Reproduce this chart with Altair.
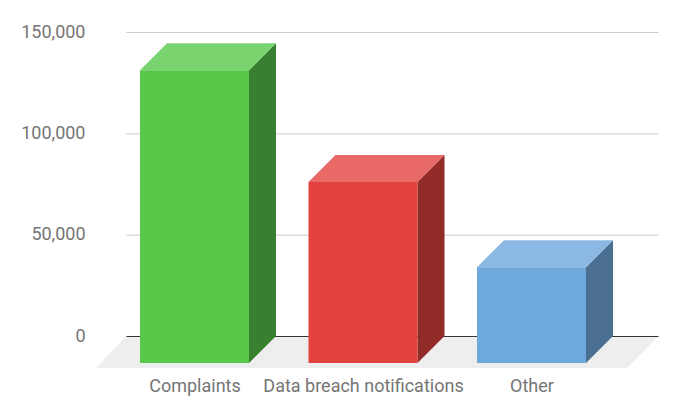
import altair as alt
import pandas as pd

categories = ["Complaints", "Data breach notifications", "Other"]
values = [144500, 89300, 47300]
front_colors = ["#57c84a", "#e2433f", "#6fa8dc"]
top_colors = ["#79d36f", "#e86965", "#8cb9e3"]
side_colors = ["#387f30", "#902b28", "#4a6f91"]
y_ticks = [0, 50000, 100000, 150000]

# scale layout
PX_PER_CAT = 168.5
PX_PER_VAL = 304 / 150000
DX = 27 / PX_PER_CAT
DY = 27 / PX_PER_VAL
HALF = 54.5 / PX_PER_CAT
X_DOMAIN = [(96 - 194.5) / PX_PER_CAT, (658.5 - 194.5) / PX_PER_CAT]
Y_DOMAIN = [-32 / PX_PER_VAL, 150000]

x_scale = alt.Scale(domain=X_DOMAIN, nice=False, zero=False)
y_scale = alt.Scale(domain=Y_DOMAIN, nice=False, zero=False)

X = alt.X("x:Q", scale=x_scale, title=None)
Y = alt.Y("y:Q", scale=y_scale, title=None)

# floor: horizontal-oriented area between the back and front edges
floor_left = X_DOMAIN[0] + 30.5 / PX_PER_CAT
floor_df = pd.DataFrame({
    "y": [Y_DOMAIN[0], 0],
    "x": [X_DOMAIN[0], floor_left],
    "x2": [X_DOMAIN[1] - 31.5 / PX_PER_CAT, X_DOMAIN[1]],
})
floor = alt.Chart(floor_df).mark_area(orient="horizontal", color="#eeeeee").encode(
    y=Y, x=X, x2="x2:Q"
)

grid_df = pd.DataFrame({"y": y_ticks[1:], "x": floor_left, "x2": X_DOMAIN[1]})
grid = alt.Chart(grid_df).mark_rule(color="#cccccc", strokeWidth=1, yOffset=0.5).encode(
    y=Y, x=X, x2="x2:Q"
)
base_df = pd.DataFrame({"y": [0], "x": [floor_left], "x2": [X_DOMAIN[1]]})
baseline = alt.Chart(base_df).mark_rule(color="#333333", strokeWidth=1, yOffset=0.5).encode(
    y=Y, x=X, x2="x2:Q"
)

axes_df = pd.DataFrame({"x": [0, 1, 2], "y": [0, 0, 0]})
label_expr = "[" + ",".join(f"'{c}'" for c in categories) + "][datum.value]"
axis_layer = alt.Chart(axes_df).mark_point(opacity=0).encode(
    x=alt.X("x:Q", scale=x_scale, title=None, axis=alt.Axis(
        values=[0, 1, 2], labelExpr=label_expr, domain=False, ticks=False, grid=False,
        labelFont="Roboto", labelFontSize=18, labelColor="#757575", labelPadding=9,
        labelOverlap=False, labelFlush=False, labelLimit=400)),
    y=alt.Y("y:Q", scale=y_scale, title=None, axis=alt.Axis(
        values=y_ticks, format=",d", domain=False, ticks=False, grid=False,
        labelFont="Roboto", labelFontSize=18, labelColor="#757575", labelPadding=11,
        labelOverlap=False, labelFlush=False)),
)

layers = [axis_layer, floor, grid, baseline]
for i, v in enumerate(values):
    l, r = i - HALF, i + HALF
    top_front = v - DY
    front = alt.Chart(pd.DataFrame({"x": [l], "x2": [r], "y": [-DY], "y2": [top_front]})).mark_rect(
        color=front_colors[i], opacity=1).encode(x=X, x2="x2:Q", y=Y, y2="y2:Q")
    side = alt.Chart(pd.DataFrame({"x": [r, r + DX], "y": [-DY, 0], "y2": [top_front, v]})).mark_area(
        color=side_colors[i], opacity=1).encode(x=X, y=Y, y2="y2:Q")
    top = alt.Chart(pd.DataFrame({"y": [top_front, v], "x": [l, l + DX], "x2": [r, r + DX]})).mark_area(
        orient="horizontal", color=top_colors[i], opacity=1).encode(y=Y, x=X, x2="x2:Q")
    layers += [side, top, front]

chart = alt.layer(*layers).properties(
    width=562.5, height=336, autosize="none",
    padding={"left": 88, "top": 24, "right": 5, "bottom": 34},
).configure_view(stroke=None)

chart.save("out.html", embed_options={"renderer": "svg", "actions": False})
